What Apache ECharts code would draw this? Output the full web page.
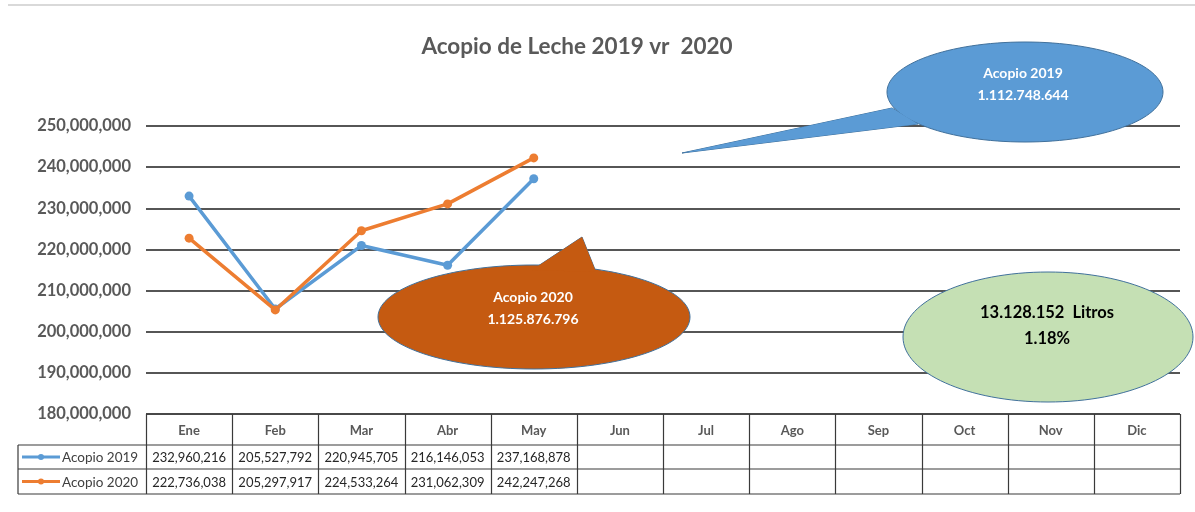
<!DOCTYPE html>
<html>
<head>
<meta charset="utf-8">
<script src="https://cdn.jsdelivr.net/npm/echarts@6/dist/echarts.min.js"></script>
<style>
  html, body { margin: 0; padding: 0; background: #fff; }
  #main { width: 1195px; height: 512px; }
</style>
</head>
<body>
<div id="main"></div>
<script>
// datos
const meses = ['Ene', 'Feb', 'Mar', 'Abr', 'May', 'Jun', 'Jul', 'Ago', 'Sep', 'Oct', 'Nov', 'Dic']
const nombres = ['Acopio 2019', 'Acopio 2020']
const acopio2019 = [232960216, 205527792, 220945705, 216146053, 237168878]
const acopio2020 = [222736038, 205297917, 224533264, 231062309, 242247268]
const totales = ['1.112.748.644', '1.125.876.796']
const diferencia = ['13.128.152  Litros', '1.18%']
const yMin = 180000000, yMax = 250000000, yStep = 10000000

const colores = ['#5b9bd5', '#ed7d31']
const fuente = 'Lato'

// geometria del area de trazado
const L = 146, R = 1180, T = 126, B = 414
const colW = (R - L) / meses.length
const filas = [414, 445, 469, 494]
const legX = 18

const fmt = v => v.toLocaleString('en-US')

let myChart = echarts.init(document.getElementById('main'), null, { renderer: 'canvas' })

// tabla de datos debajo del grafico
let tabla = []
const lineaTabla = (x1, y1, x2, y2) => ({
  type: 'line', z: 50, silent: true,
  shape: { x1, y1, x2, y2 },
  style: { stroke: '#3a3a3a', lineWidth: 1.2 }
})
tabla.push(lineaTabla(L, filas[0], R, filas[0]))
tabla.push(lineaTabla(legX, filas[1], R, filas[1]))
tabla.push(lineaTabla(legX, filas[2], R, filas[2]))
tabla.push(lineaTabla(legX, filas[3], R, filas[3]))
tabla.push(lineaTabla(legX, filas[1], legX, filas[3]))
for (let i = 0; i <= meses.length; i++) {
  const x = Math.round(L + colW * i) + 0.5
  tabla.push(lineaTabla(x, filas[0], x, filas[3]))
}
meses.forEach((m, i) => {
  tabla.push({
    type: 'text', z: 60, silent: true,
    x: L + colW * (i + 0.5), y: (filas[0] + filas[1]) / 2 + 1,
    style: { text: m, fill: '#595959', font: 'bold 13px ' + fuente, align: 'center', verticalAlign: 'middle' }
  })
})
;[acopio2019, acopio2020].forEach((serie, s) => {
  const yc = (filas[s + 1] + filas[s + 2]) / 2
  tabla.push({
    type: 'line', z: 60, silent: true,
    shape: { x1: 22, y1: yc, x2: 60, y2: yc },
    style: { stroke: colores[s], lineWidth: 3 }
  })
  tabla.push({
    type: 'circle', z: 61, silent: true,
    shape: { cx: 41, cy: yc, r: 3 },
    style: { fill: colores[s] }
  })
  tabla.push({
    type: 'text', z: 60, silent: true,
    x: 62, y: yc + 1,
    style: { text: nombres[s], fill: '#404040', font: '13.5px ' + fuente, align: 'left', verticalAlign: 'middle' }
  })
  serie.forEach((v, i) => {
    tabla.push({
      type: 'text', z: 60, silent: true,
      x: L + colW * (i + 0.5), y: yc + 1,
      style: { text: fmt(v), fill: '#262626', font: '13px ' + fuente, align: 'center', verticalAlign: 'middle' }
    })
  })
})

// globos de texto
const borde = '#41719c'
const globo = (cx, cy, rx, ry, fill, cola) => {
  let partes = []
  if (cola) {
    partes.push({ type: 'polygon', z: 100, silent: true, shape: { points: cola }, style: { fill, stroke: borde, lineWidth: 1 } })
  }
  partes.push({ type: 'ellipse', z: 101, silent: true, shape: { cx, cy, rx, ry }, style: { fill, stroke: borde, lineWidth: 1 } })
  if (cola) {
    partes.push({ type: 'polygon', z: 102, silent: true, shape: { points: cola }, style: { fill, stroke: null } })
  }
  return partes
}
const textoGlobo = (x, y, lineas, color, font, paso) => lineas.map((t, i) => ({
  type: 'text', z: 110, silent: true, x, y: y + i * paso,
  style: { text: t, fill: color, font, align: 'center', verticalAlign: 'middle' }
}))

let globos = [].concat(
  globo(1025, 92, 138, 50, '#5b9bd5', [[892, 108], [682, 153], [918, 124]]),
  textoGlobo(1023, 73, [nombres[0], totales[0]], '#ffffff', 'bold 14px ' + fuente, 22),
  globo(534, 317, 156, 52, '#c55a11', [[532, 270], [582, 237], [596, 272]]),
  textoGlobo(533, 297, [nombres[1], totales[1]], '#ffffff', 'bold 14px ' + fuente, 22),
  globo(1048, 337, 145, 65, '#c5e0b4', null),
  textoGlobo(1047, 313, diferencia, '#000000', 'bold 16.5px ' + fuente, 26)
)

let option = {
  animation: false,
  backgroundColor: '#ffffff',
  title: {
    text: 'Acopio de Leche 2019 vr  2020',
    left: 572, top: 30, textAlign: 'center',
    textStyle: { fontFamily: fuente, fontSize: 22.5, fontWeight: 'bold', color: '#595959' }
  },
  grid: { left: L, right: 1195 - R, top: T, bottom: 512 - B, containLabel: false },
  xAxis: {
    type: 'category',
    data: meses,
    boundaryGap: true,
    axisLine: { show: false },
    axisTick: { show: false },
    axisLabel: { show: false },
    splitLine: { show: false }
  },
  yAxis: {
    type: 'value',
    min: yMin, max: yMax, interval: yStep,
    axisLine: { show: false },
    axisTick: { show: false },
    axisLabel: {
      margin: 15,
      formatter: v => fmt(v),
      fontFamily: fuente, fontSize: 16.5, fontWeight: 'bold', color: '#595959'
    },
    splitLine: { lineStyle: { color: '#1e1e1e', width: 1.5 } }
  },
  series: [{
    name: nombres[0],
    type: 'line',
    data: acopio2019,
    symbol: 'circle',
    symbolSize: 9,
    lineStyle: { color: colores[0], width: 3.5 },
    itemStyle: { color: colores[0] },
    z: 5
  }, {
    name: nombres[1],
    type: 'line',
    data: acopio2020,
    symbol: 'circle',
    symbolSize: 9,
    lineStyle: { color: colores[1], width: 3.5 },
    itemStyle: { color: colores[1] },
    z: 6
  }],
  graphic: [{
    type: 'line', silent: true,
    shape: { x1: 8, y1: 5, x2: 1195, y2: 5 },
    style: { stroke: '#d9d9d9', lineWidth: 2 }
  }].concat(tabla, globos)
}

myChart.setOption(option)
</script>
</body>
</html>
